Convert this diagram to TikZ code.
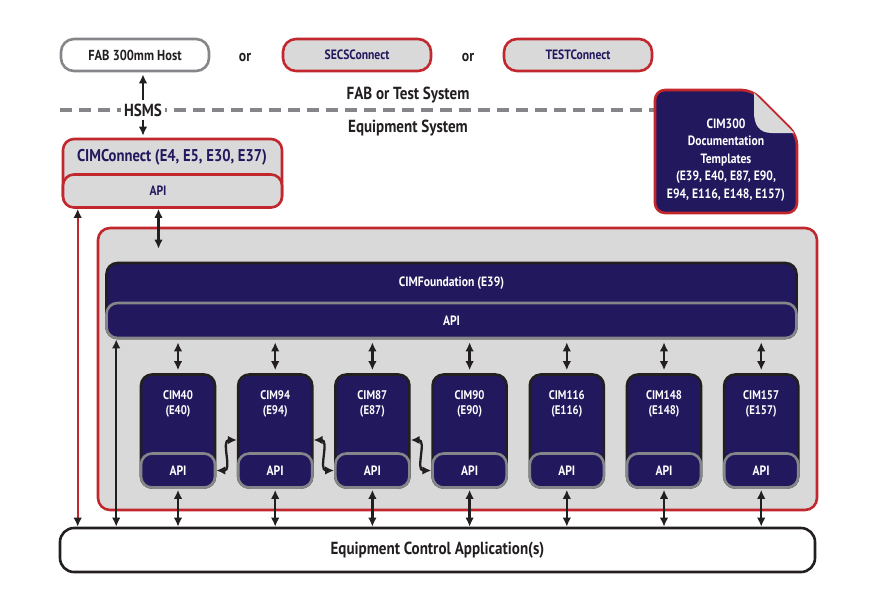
\documentclass[tikz,border=0pt]{standalone}
\usepackage{fontspec}
\setmainfont{PT Sans}[FakeStretch=0.86]
\usetikzlibrary{arrows.meta,positioning,calc}
\definecolor{navy}{HTML}{22185E}
\definecolor{cimred}{HTML}{C1272D}
\definecolor{panelgrey}{HTML}{D9D9D9}
\definecolor{greyline}{HTML}{858689}
\definecolor{inkblack}{HTML}{231F20}
\tikzset{
  pill/.style={rounded corners=13pt,line width=2.6pt,minimum width=148pt,minimum height=32pt,inner sep=0pt},
  hostbox/.style={pill,draw=greyline,fill=white,text=inkblack,font=\bfseries\fontsize{14.5}{16}\selectfont},
  prodbox/.style={pill,draw=cimred,fill=panelgrey,text=navy,font=\bfseries\fontsize{13.5}{15}\selectfont},
  ortext/.style={font=\bfseries\fontsize{16}{18}\selectfont,text=inkblack},
  systext/.style={font=\bfseries\fontsize{17.5}{19}\selectfont,text=inkblack,inner sep=2pt},
  % --- API layer motif ---
  shell/.style={rounded corners=11pt,line width=2.6pt,inner sep=0pt},
  apilayer/.style={shell,draw=greyline,fill=navy,text=white,font=\bfseries\fontsize{13.5}{15}\selectfont},
  module/.style={shell,draw=inkblack,fill=navy,minimum width=74pt,minimum height=113pt},
  modapi/.style={apilayer,minimum width=74pt,minimum height=34pt},
  modlab/.style={text=white,align=center,font=\bfseries\fontsize{12.5}{14.5}\selectfont},
  flow/.style={{Latex[length=9pt,width=8.5pt]}-{Latex[length=9pt,width=8.5pt]},line width=2.3pt,draw=inkblack},
  redflow/.style={flow,draw=cimred,{Latex[length=9pt,width=8.5pt,color=inkblack]}-{Latex[length=9pt,width=8.5pt,color=inkblack]}},
}

\begin{document}
\begin{tikzpicture}[x=1pt,y=-1pt]
  \useasboundingbox (0,0) rectangle (880,614);
  % fab side
  \node[hostbox] (host) at (135,55) {FAB 300mm Host};
  \node[ortext] (or1) at (245,57) {or};
  \node[prodbox] (secs) at (357,55) {SECSConnect};
  \node[ortext] (or2) at (468,57) {or};
  \node[prodbox] (test) at (578,55) {TESTConnect};
  \draw[greyline,line width=3.5pt,dash pattern=on 12pt off 7pt] (60,110) -- (660,110);
  \node[systext,fill=white,inner sep=3pt] (hsms) at (143,110) {HSMS};
  \node[systext] (fabsys) at (408,95) {FAB or Test System};
  \node[systext] (eqsys) at (408,128) {Equipment System};
  % CIMConnect
  \node[shell,draw=cimred,fill=panelgrey,minimum width=219pt,minimum height=68pt] (cimc) at (172.5,173) {};
  \node[shell,draw=cimred,fill=panelgrey,minimum width=219pt,minimum height=33pt] (capi) at (172.5,191) {};
  \node[text=navy,font=\bfseries\fontsize{13.5}{15}\selectfont] (capilab) at (158,191) {API};
  \node[text=navy,font=\bfseries\fontsize{17}{19}\selectfont] (ctitle) at (172,157) {CIMConnect (E4, E5, E30, E37)};
  \draw[flow,{Latex[length=9pt,width=8.5pt]}-,shorten <=2pt] (hsms.north |- host.south) -- (hsms.north);
  \draw[flow,-{Latex[length=9pt,width=8.5pt]},shorten >=2pt] (hsms.south) -- (hsms.south |- cimc.north);
  % documentation templates
  \draw[cimred,fill=navy,line width=2.6pt,rounded corners=10pt]
    (655,90) -- (752,90) -- (797,135) -- (797,213) -- (655,213) -- cycle;
  \fill[panelgrey] (754,93) -- (794,133) -- (772,133)
    .. controls (759,133) and (754,125) .. (754,112) -- cycle;
  \node[modlab,font=\bfseries\fontsize{13.5}{17.5}\selectfont] (docs) at (726,160)
    {CIM300\\Documentation\\Templates\\(E39, E40, E87, E90,\\E94, E116, E148, E157)};
  % equipment side
  \node[shell,draw=cimred,fill=panelgrey,rounded corners=12pt,minimum width=719pt,minimum height=282pt] (core) at (457.5,369) {};
  \node[shell,draw=inkblack,fill=navy,minimum width=690pt,minimum height=75pt] (found) at (451.5,300.5) {};
  \node[apilayer,minimum width=690pt,minimum height=35pt] (fapi) at (451.5,320.5) {API};
  \node[modlab,font=\bfseries\fontsize{13.5}{15}\selectfont] (ftitle) at (451.5,283) {CIMFoundation (E39)};
  \node[shell,draw=inkblack,fill=white,rounded corners=14pt,minimum width=755pt,minimum height=44pt,
    font=\bfseries\fontsize{17.5}{19}\selectfont,text=inkblack] (eca) at (437.5,550) {Equipment Control Application(s)};
  \foreach \i/\cim/\std in {0/CIM40/E40,1/CIM94/E94,2/CIM87/E87,3/CIM90/E90,
                           4/CIM116/E116,5/CIM148/E148,6/CIM157/E157} {
    \node[module] (m\i) at (178+97.2*\i,431) {};
    \node[modapi] (mapi\i) at (178+97.2*\i,470.5) {API};
    \node[modlab] (mlab\i) at (178+97.2*\i,404) {\cim\\(\std)};
    \draw[flow,shorten <=3pt,shorten >=3pt] (fapi.south -| m\i.north) -- (m\i.north);
    \draw[flow,shorten <=1pt] (mapi\i.south) -- (mapi\i.south |- eca.north);
  }
  % wavy links between modules
  \coordinate (w1) at ($(m1.west)+(0,9)$);
  \draw[flow] (mapi0.east) .. controls +(16,0) and +(-16,0) .. (w1);
  \foreach \a/\b in {1/2,2/3} {
    \coordinate (v\a) at ($(m\a.east)+(0,9)$);
    \draw[flow] (v\a) .. controls +(16,0) and +(-16,0) .. (mapi\b.west);
  }
  % side links
  \coordinate (cl) at ([xshift=-14pt]capi.south);
  \draw[flow] (cl) -- ($(cl |- core.north)+(0,22)$);
  \coordinate (rl) at ([xshift=16pt]capi.south west);
  \draw[redflow] (rl) -- (rl |- eca.north);
  \coordinate (fl) at ([xshift=11pt]fapi.south west);
  \draw[flow] (fl) -- (fl |- eca.north);
\end{tikzpicture}
\end{document}
